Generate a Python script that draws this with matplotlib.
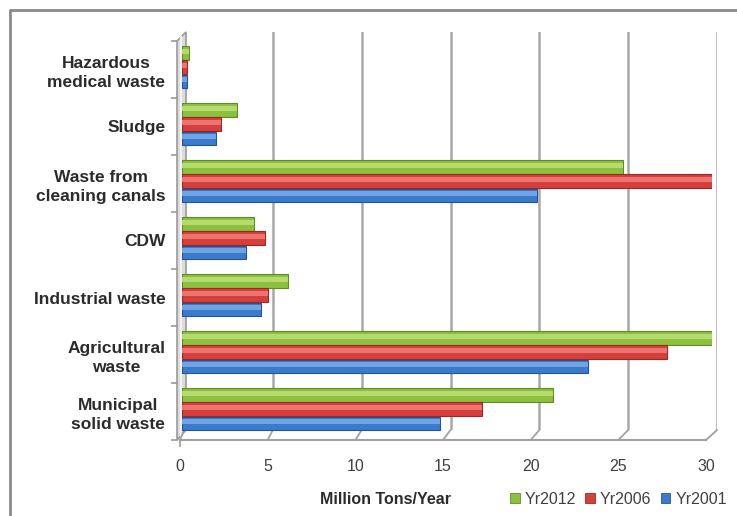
import matplotlib
matplotlib.use("Agg")
import matplotlib.pyplot as plt
import numpy as np
from matplotlib.patches import Polygon, Patch

categories = ["Municipal\nsolid waste", "Agricultural\nwaste", "Industrial waste", "CDW",
              "Waste from\ncleaning canals", "Sludge", "Hazardous\nmedical waste"]
yr2012 = [21.0, 30.0, 6.0, 4.1, 25.0, 3.1, 0.4]
yr2006 = [17.0, 27.5, 4.9, 4.7, 30.0, 2.2, 0.3]
yr2001 = [14.6, 23.0, 4.5, 3.6, 20.1, 1.9, 0.3]
series_names = ["Yr2012", "Yr2006", "Yr2001"]
x_ticks = [0, 5, 10, 15, 20, 25, 30]

W, H = 737, 516
fig = plt.figure(figsize=(W / 100, H / 100), dpi=100)
fig.patch.set_facecolor("white")

def rect(x0, y0, x1, y1):
    # pixel box (top-left origin) -> figure fraction
    return [x0 / W, (H - y1) / H, (x1 - x0) / W, (y1 - y0) / H]

# overlay (pixel coords) for 3D decorations
ov = fig.add_axes([0, 0, 1, 1], zorder=0)
ov.set_xlim(0, W); ov.set_ylim(H, 0); ov.axis("off")

# frame border
ov.plot([10, 10, W], [H, 10, 10], color="#8a8a8a", lw=2, solid_capstyle="butt")

# back scale / front scale (pixel positions of 0 and 30)
back0, back30, backTop, backBot = 184, 717, 32, 430
front0, front30, frontY = 180, 706, 440

# left side wall
wall = Polygon([[177, 41], [186, 32], [186, backBot], [177, frontY]], closed=True,
               facecolor="#dcdcdc", edgecolor="#9a9a9a", lw=1.2)
ov.add_patch(wall)
ov.plot([181, 181], [37, 436], color="#f2f2f2", lw=1.5)

# floor: front axis line and slanted ticks
ov.plot([front0, front30], [frontY, frontY], color="#a0a0a0", lw=1.5)
for v in x_ticks:
    fx = front0 + v * (front30 - front0) / 30
    bx = back0 + v * (back30 - back0) / 30
    ov.plot([fx, bx], [frontY, backBot], color="#a0a0a0", lw=1.3)
ov.plot([front0, front0], [frontY, frontY + 6], color="#a0a0a0", lw=1.3)

# left wall category ticks
n = len(categories)
step = (frontY - 41) / n
for i in range(n + 1):
    y = frontY - i * step
    ov.plot([172, 177], [y, y], color="#a0a0a0", lw=1.3)

# back wall grid
axB = fig.add_axes(rect(back0, backTop, back30, backBot), zorder=1)
axB.set_xlim(0, 30); axB.set_ylim(0, 1)
axB.patch.set_alpha(0)
for s in axB.spines.values():
    s.set_visible(False)
axB.set_xticks([]); axB.set_yticks([])
for v in x_ticks[1:]:
    axB.axvline(v, color="#a8a8a8", lw=1.8)

# bars (mid-depth scale)
ax = fig.add_axes(rect(182, 41, 711.5, frontY), zorder=2)
ax.patch.set_alpha(0)
ax.set_xlim(0, 30); ax.set_ylim(-0.5, n - 0.5)
for s in ax.spines.values():
    s.set_visible(False)
ax.set_xticks([])

y = np.arange(n)
offsets = [0.29, 0.04, -0.21]
h = 0.24
styles = [("#8cc03f", "#b9df72", "#5f8d22"),
          ("#d5403c", "#f07a74", "#9e2624"),
          ("#3b7bcc", "#78a9e6", "#245493")]
for vals, off, (base, hi, edge) in zip([yr2012, yr2006, yr2001], offsets, styles):
    ax.barh(y + off, vals, height=h, color=base, edgecolor=edge, linewidth=0.8)
    ax.barh(y + off + h * 0.12, vals, height=h * 0.35, color=hi, linewidth=0, alpha=0.9)

ax.set_yticks(y)
ax.set_yticklabels(categories, fontsize=12.5, fontweight="bold", color="#2b2b2b",
                   family="Liberation Sans")
ax.tick_params(axis="y", length=0, pad=12)
for lab in ax.get_yticklabels():
    lab.set_multialignment("center")
    lab.set_linespacing(1.35)

# front axis labels
axF = fig.add_axes(rect(front0, frontY - 1, front30, frontY), zorder=2)
axF.patch.set_alpha(0)
axF.set_xlim(0, 30)
for s in axF.spines.values():
    s.set_visible(False)
axF.set_yticks([])
axF.set_xticks(x_ticks)
axF.set_xticklabels([str(v) for v in x_ticks], fontsize=11.5, color="#404040",
                    family="Liberation Sans")
axF.tick_params(axis="x", length=0, pad=14)

# axis title and legend
fig.text(386 / W, 1 - 499 / H, "Million Tons/Year", ha="center", va="center",
         fontsize=11.5, fontweight="bold", color="#2b2b2b", family="Liberation Sans")
handles = [Patch(facecolor=b, edgecolor=e, lw=0.6) for b, _, e in styles]
fig.legend(handles, series_names, loc="center left", bbox_to_anchor=(510 / W, 1 - 499 / H),
           ncol=3, frameon=False, handlelength=0.6, handleheight=0.6, handletextpad=0.3,
           columnspacing=0.6, prop={"family": "Liberation Sans", "size": 11.5},
           labelcolor="#404040", borderpad=0, borderaxespad=0)

fig.savefig("out.png", dpi=100)
